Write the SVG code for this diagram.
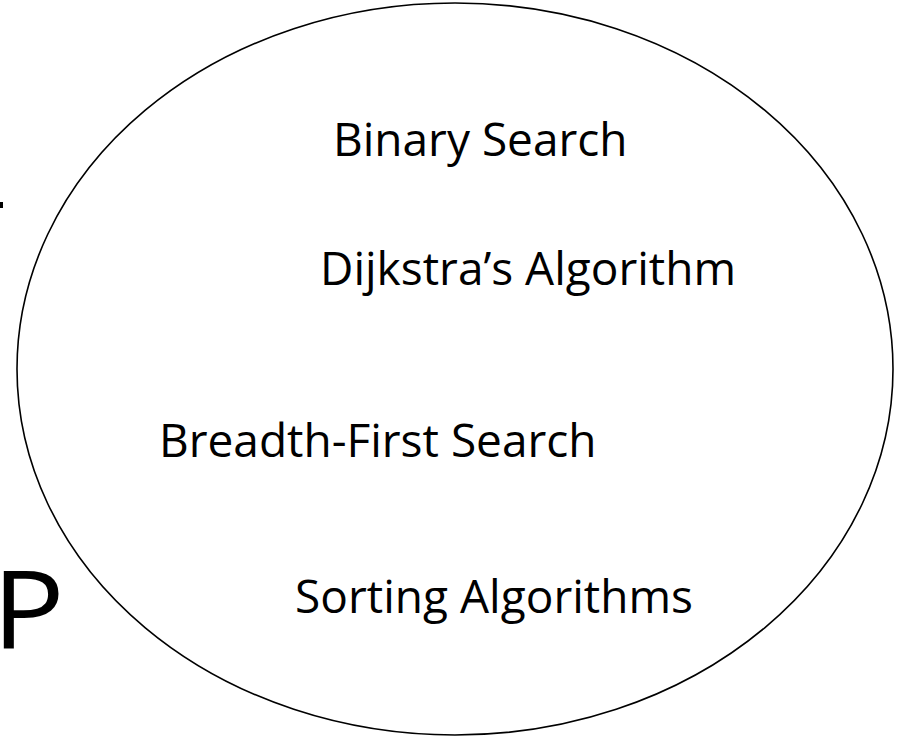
<svg xmlns="http://www.w3.org/2000/svg" width="903" height="738" viewBox="0 0 903 738">
<style>
.lbl{font-family:"Open Sans","Noto Sans",sans-serif;font-size:46px;fill:#000}
.big{font-family:"Open Sans","Noto Sans",sans-serif;font-size:108px;fill:#000}
</style>
<rect width="903" height="738" fill="#fff"/>
<g id="fragments">
<rect x="0" y="202" width="3" height="6" fill="#000"/>
<text class="big" transform="translate(-8 648) scale(1.12 1)" x="0" y="0">P</text>
</g>
<g id="set">
<ellipse cx="455" cy="369" rx="438" ry="366" fill="none" stroke="#000" stroke-width="1.6"/>
</g>
<g id="connectors"/>
<g id="n-binary"><text class="lbl" x="333" y="156">Binary Search</text></g>
<g id="n-dijkstra"><text class="lbl" x="320" y="285">Dijkstra’s Algorithm</text></g>
<g id="n-bfs"><text class="lbl" x="159" y="457">Breadth-First Search</text></g>
<g id="n-sorting"><text class="lbl" x="295" y="613" textLength="398">Sorting Algorithms</text></g>
</svg>
